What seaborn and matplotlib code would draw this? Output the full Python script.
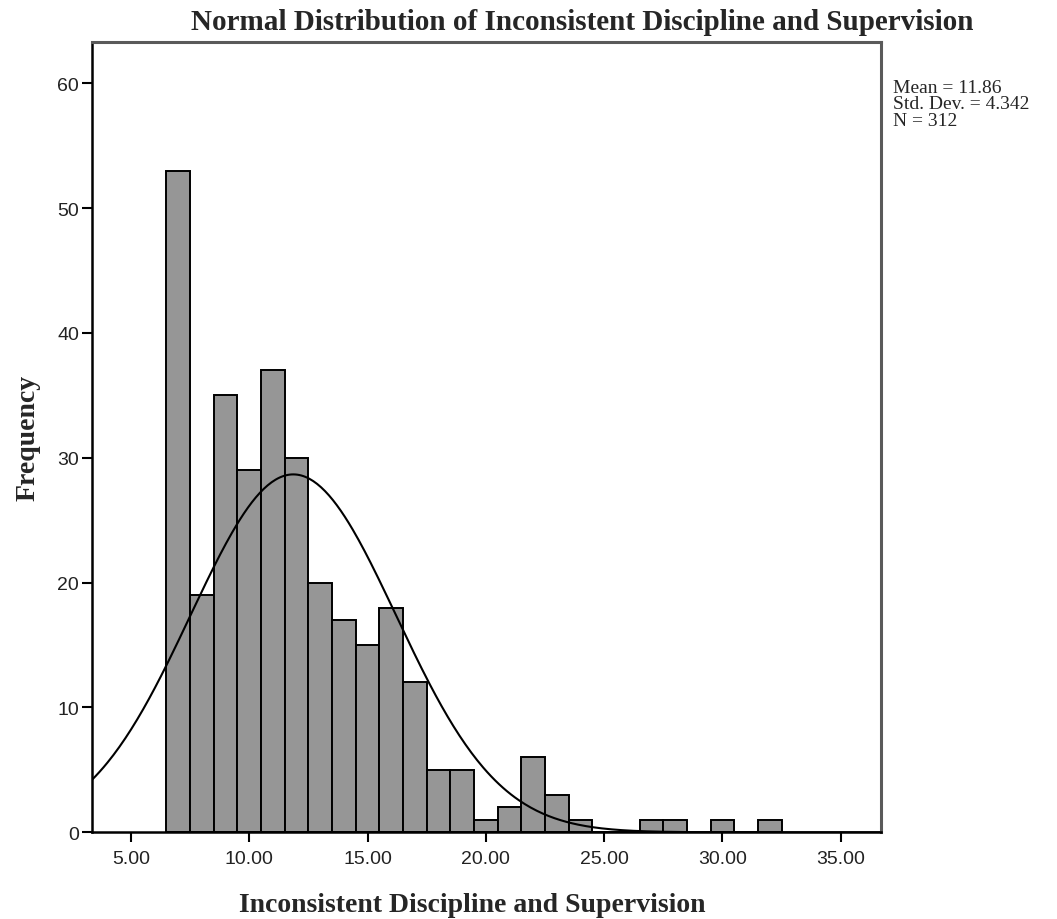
import numpy as np
import pandas as pd
import matplotlib
matplotlib.use("Agg")
import matplotlib.pyplot as plt
import seaborn as sns

# Score values (bin centres) and their frequencies
scores = [7, 8, 9, 10, 11, 12, 13, 14, 15, 16, 17, 18, 19, 20, 21, 22, 23, 24,
          25, 26, 27, 28, 29, 30, 31, 32]
counts = [53, 19, 35, 29, 37, 30, 20, 17, 15, 18, 12, 5, 5, 1, 2, 6, 3, 1,
          0, 0, 1, 1, 0, 1, 0, 1]

# Summary statistics shown in the legend box
mean_val = 11.86
std_val = 4.342
n_val = 312

x_ticks = [5, 10, 15, 20, 25, 30, 35]
y_ticks = [0, 10, 20, 30, 40, 50, 60]

title = "Normal Distribution of Inconsistent Discipline and Supervision"
x_label = "Inconsistent Discipline and Supervision"
y_label = "Frequency"

sns.set_theme(style="white")
plt.rcParams["font.family"] = ["Liberation Sans", "DejaVu Sans"]

df = pd.DataFrame({"score": np.repeat(scores, counts)})

fig = plt.figure(figsize=(10.57, 9.2), dpi=100)
ax = fig.add_axes([91.7 / 1057, 1 - 833.3 / 920, (880.7 - 91.7) / 1057, (833.3 - 43) / 920])

edges = np.arange(min(scores) - 0.5, max(scores) + 1.0, 1.0)
sns.histplot(data=df, x="score", bins=edges, stat="count", color="#969696",
             edgecolor="black", linewidth=1.4, alpha=1.0, ax=ax)

ax.set_xlim(3.34, 36.69)
ax.set_ylim(0, 63.3)

# Fitted normal curve scaled to counts per unit-width bin
xs = np.linspace(3.34, 36.69, 400)
ys = n_val * 1.0 / (std_val * np.sqrt(2 * np.pi)) * np.exp(-0.5 * ((xs - mean_val) / std_val) ** 2)
ax.plot(xs, ys, color="black", linewidth=1.5)

ax.set_xticks(x_ticks)
ax.set_xticklabels([f"{v:.2f}" for v in x_ticks], fontsize=14, color="#222222")
ax.set_yticks(y_ticks)
ax.set_yticklabels([str(v) for v in y_ticks], fontsize=14, color="#222222")
ax.tick_params(axis="both", direction="out", length=7.5, width=1.5, color="black",
               bottom=True, left=True)
ax.tick_params(axis="x", pad=5)
ax.tick_params(axis="y", pad=1.5)

for side in ("left", "bottom"):
    ax.spines[side].set_color("black")
    ax.spines[side].set_linewidth(1.8)
for side in ("top", "right"):
    ax.spines[side].set_visible(True)
    ax.spines[side].set_color("#5a5a5a")
    ax.spines[side].set_linewidth(2.2)

ax.set_xlabel(x_label, fontsize=20, fontweight="bold", family="Liberation Serif")
ax.xaxis.set_label_coords((472 - 91.7) / (880.7 - 91.7), -(905 - 833.3) / (833.3 - 43))
ax.xaxis.label.set_va("center")
ax.set_ylabel(y_label, fontsize=20, fontweight="bold", family="Liberation Serif", labelpad=12)

fig.text(582 / 1057, 1 - 22 / 920, title, ha="center", va="center",
         fontsize=21, fontweight="bold", family="Liberation Serif")

fig.text(893 / 1057, 1 - 80 / 920,
         f"Mean = {mean_val:.2f}\nStd. Dev. = {std_val:.3f}\nN = {n_val}",
         ha="left", va="top", fontsize=14, family="Liberation Serif", linespacing=0.96)

fig.savefig("out.png", dpi=100)
